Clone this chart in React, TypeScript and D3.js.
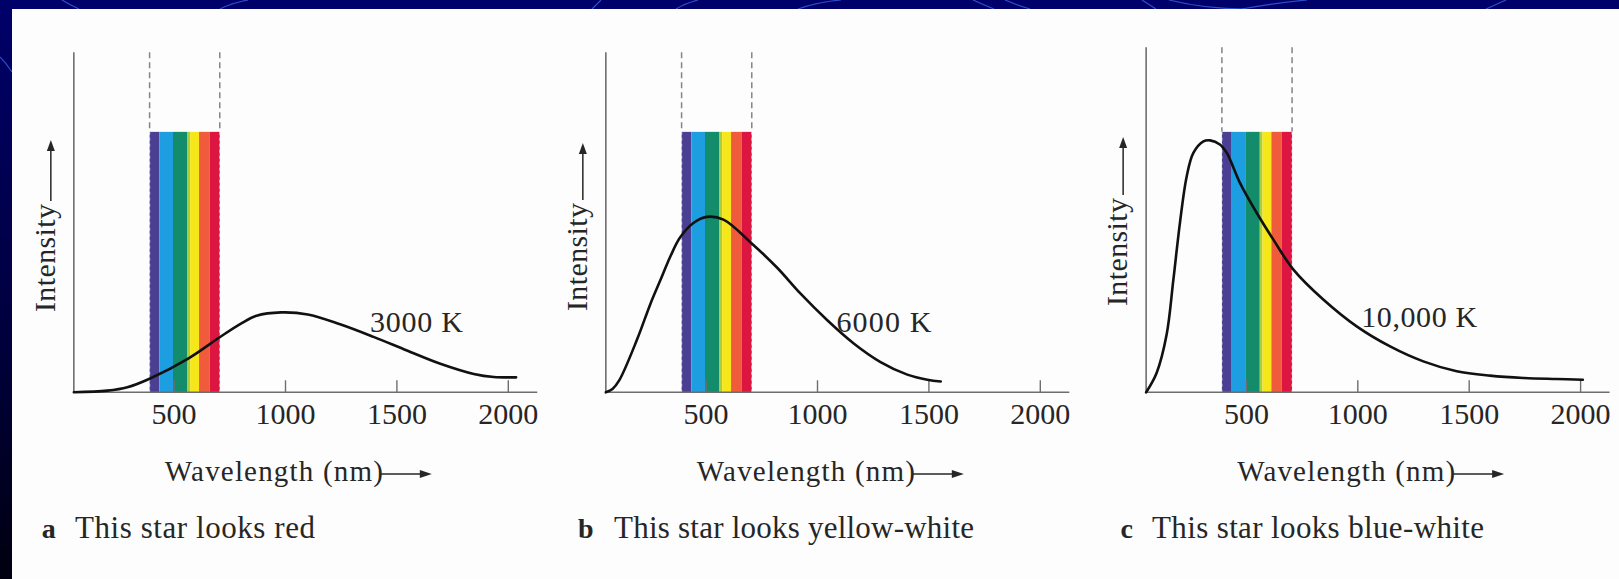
import React from 'react';
import * as d3 from 'd3';

// ---- data -------------------------------------------------------------
const WAVELENGTH_TICKS = [500, 1000, 1500, 2000];
// visible band (nm) split into colour stripes
const STRIPE_EDGES = [390, 434, 495, 560, 572, 612, 659, 705];
const BAND_TOP = 76.6; // intensity units

const PANEL_LETTERS = ['a', 'b', 'c'];
const CAPTIONS = ['This star looks red', 'This star looks yellow-white', 'This star looks blue-white'];
const TEMP_LABELS = ['3000 K', '6000 K', '10,000 K'];
const TEMP_LABEL_WL = [1379, 1085, 1015];
const TEMP_LABEL_I = [17.7, 17.8, 19.3];

// blackbody curves, intensity in arbitrary units
const WL_3000 = [50, 200, 290, 390, 565, 705, 800, 870, 980, 1100, 1245, 1395, 1545, 1695, 1845, 1935, 2035];
const I_3000 = [0, 0.5, 1.5, 4, 10, 16.2, 20.2, 22.5, 23.5, 22.9, 20, 16.3, 12.3, 8.4, 5.4, 4.5, 4.4];

const WL_6000 = [50, 80, 110, 190, 250, 295, 340, 383, 443, 503, 578, 706, 818, 924, 1044, 1164, 1283, 1403, 1493, 1553];
const I_6000 = [0, 1, 3.5, 15.5, 26, 33, 40, 45.5, 49.8, 51.6, 50.8, 43.7, 36.7, 29, 21.2, 14.3, 8.9, 5.2, 3.7, 3.2];

const WL_10000 = [50, 97, 142, 172, 202, 232, 262, 307, 337, 381, 412, 471, 546, 621, 711, 845, 995, 1145, 1294, 1444, 1593, 1743, 1893, 2010];
const I_10000 = [0, 5.7, 17, 33, 50, 63.5, 70.4, 73.8, 74.1, 72.9, 70.4, 61.6, 52.8, 44.9, 36.1, 27.3, 19.4, 13.5, 9.1, 6.2, 4.9, 4.2, 3.9, 3.7];

const SERIES_WL = [WL_3000, WL_6000, WL_10000];
const SERIES_I = [I_3000, I_6000, I_10000];

// ---- styling / layout -----------------------------------------------
const W = 1619;
const H = 579;
const NAVY = '#00006a';
const STRIPE_COLORS = ['#4b3f93', '#1d9ee0', '#138c6c', '#a9cf3a', '#f6e71a', '#ef5b3b', '#dd1541'];
const FONT = "'Liberation Serif', 'Times New Roman', serif";
const INK = '#262626';
const AXIS = '#6e6e6e';
const PX_PER_NM = 0.2228;
const AXIS_START = 50;
const AXIS_END = 2130;

const LAYOUT = [
  { origin: 62.7, top: 100, intBottom: 312, tip: 140, letterX: 41.7, capX: 75, capLen: 240, tempLen: 93 },
  { origin: 594.7, top: 100, intBottom: 311, tip: 143, letterX: 578, capX: 614, capLen: 360, tempLen: 95 },
  { origin: 1135, top: 101.5, intBottom: 306, tip: 137, letterX: 1120.6, capX: 1152, capLen: 332, tempLen: 116 },
];

const y = d3.scaleLinear().domain([0, 100]).range([392.3, 52.3]);

// decorative strokes on the navy frame
const FRAME_STROKES = [
  'M62,0 Q70,5 79,9', 'M220,9 Q232,3 248,0', 'M592,9 L601,0', 'M676,9 Q686,3 698,0',
  'M798,9 Q818,2 841,0', 'M973,0 Q984,5 994,9', 'M1005,0 Q1017,5 1030,9', 'M1142,0 L1156,9',
  'M1169,0 Q1205,9 1245,9', 'M1242,9 Q1275,3 1307,0', 'M1486,9 L1506,0', 'M0,57 Q6,63 12,72',
];

function Panel({ i }: { i: number }) {
  const L = LAYOUT[i];
  const x = d3.scaleLinear().domain([0, 2000]).range([L.origin, L.origin + 2000 * PX_PER_NM]);
  const ax = x(AXIS_START);
  const base = y(0);
  const pts = SERIES_WL[i].map((w, k) => [w, SERIES_I[i][k]] as [number, number]);
  const line = d3
    .line<[number, number]>()
    .x((d) => x(d[0]))
    .y((d) => Math.min(base, y(d[1])))
    .curve(d3.curveCatmullRom.alpha(0.5));

  const bandLeft = STRIPE_EDGES[0];
  const bandRight = STRIPE_EDGES[STRIPE_EDGES.length - 1];

  return (
    <g>
      {/* visible spectrum */}
      {STRIPE_COLORS.map((c, k) => (
        <rect
          key={k}
          x={x(STRIPE_EDGES[k])}
          y={y(BAND_TOP)}
          width={x(STRIPE_EDGES[k + 1]) - x(STRIPE_EDGES[k])}
          height={base - y(BAND_TOP)}
          fill={c}
        />
      ))}
      {[bandLeft, bandRight].map((w) => (
        <g key={w}>
          <line x1={x(w)} x2={x(w)} y1={y(L.top)} y2={y(BAND_TOP)} stroke="#858585" strokeWidth={1.5} strokeDasharray="6 4" />
          <line x1={x(w)} x2={x(w)} y1={y(BAND_TOP)} y2={base} stroke="rgba(255,255,255,0.55)" strokeWidth={1.3} strokeDasharray="3 3" />
        </g>
      ))}

      {/* axes */}
      <line x1={ax} x2={ax} y1={base} y2={y(L.top)} stroke={AXIS} strokeWidth={1.6} />
      <line x1={ax} x2={x(AXIS_END)} y1={base} y2={base} stroke={AXIS} strokeWidth={1.6} />
      {WAVELENGTH_TICKS.map((t) => (
        <g key={t}>
          <line x1={x(t)} x2={x(t)} y1={base} y2={base - 12} stroke={AXIS} strokeWidth={1.4} />
          <text x={x(t)} y={423.5} textAnchor="middle" fontSize={30} fontFamily={FONT} fill={INK}>
            {t}
          </text>
        </g>
      ))}

      {/* curve */}
      <path d={line(pts) || ''} fill="none" stroke="#111" strokeWidth={2.6} strokeLinejoin="round" strokeLinecap="round" />

      {/* temperature */}
      <text
        x={x(TEMP_LABEL_WL[i])}
        y={y(TEMP_LABEL_I[i])}
        fontSize={30}
        fontFamily={FONT}
        fill={INK}
        textLength={L.tempLen}
        lengthAdjust="spacing"
      >
        {TEMP_LABELS[i]}
      </text>

      {/* intensity label with arrow */}
      <text
        transform={`translate(${ax - 19},${L.intBottom}) rotate(-90)`}
        fontSize={30}
        fontFamily={FONT}
        fill={INK}
        textLength={108}
        lengthAdjust="spacing"
      >
        Intensity
      </text>
      <line x1={ax - 23} x2={ax - 23} y1={L.intBottom - 111} y2={L.tip + 9} stroke={INK} strokeWidth={1.5} />
      <path d={`M${ax - 23},${L.tip} L${ax - 27},${L.tip + 11} L${ax - 19},${L.tip + 11} Z`} fill={INK} />

      {/* wavelength label with arrow */}
      <text x={ax + 91} y={481} fontSize={29} fontFamily={FONT} fill={INK} textLength={218} lengthAdjust="spacing">
        Wavelength (nm)
      </text>
      <line x1={ax + 307} x2={ax + 348} y1={474} y2={474} stroke={INK} strokeWidth={1.5} />
      <path d={`M${ax + 358},474 L${ax + 346},470 L${ax + 346},478 Z`} fill={INK} />

      {/* caption */}
      <text x={L.letterX} y={538} fontSize={28} fontWeight="bold" fontFamily={FONT} fill={INK}>
        {PANEL_LETTERS[i]}
      </text>
      <text x={L.capX} y={538} fontSize={31} fontFamily={FONT} fill={INK} textLength={L.capLen} lengthAdjust="spacing">
        {CAPTIONS[i]}
      </text>
    </g>
  );
}

export default function App() {
  return (
    <div style={{ position: 'absolute', left: 0, top: 0 }}>
      <svg width={W} height={H} viewBox={`0 0 ${W} ${H}`} style={{ display: 'block' }}>
        <defs>
          <linearGradient id="edge" x1="0" y1="0" x2="0" y2="1">
            <stop offset="0" stopColor={NAVY} />
            <stop offset="0.6" stopColor="#00003c" />
            <stop offset="1" stopColor="#000010" />
          </linearGradient>
        </defs>
        <rect x={0} y={0} width={W} height={H} fill={NAVY} />
        <rect x={0} y={0} width={12} height={H} fill="url(#edge)" />
        {FRAME_STROKES.map((d, k) => (
          <path key={k} d={d} fill="none" stroke="#3a5ad8" strokeWidth={1.2} opacity={0.85} />
        ))}
        <rect x={12} y={9} width={W - 12} height={H - 9} fill="#fdfdfd" />
        {[0, 1, 2].map((i) => (
          <Panel key={i} i={i} />
        ))}
      </svg>
    </div>
  );
}
